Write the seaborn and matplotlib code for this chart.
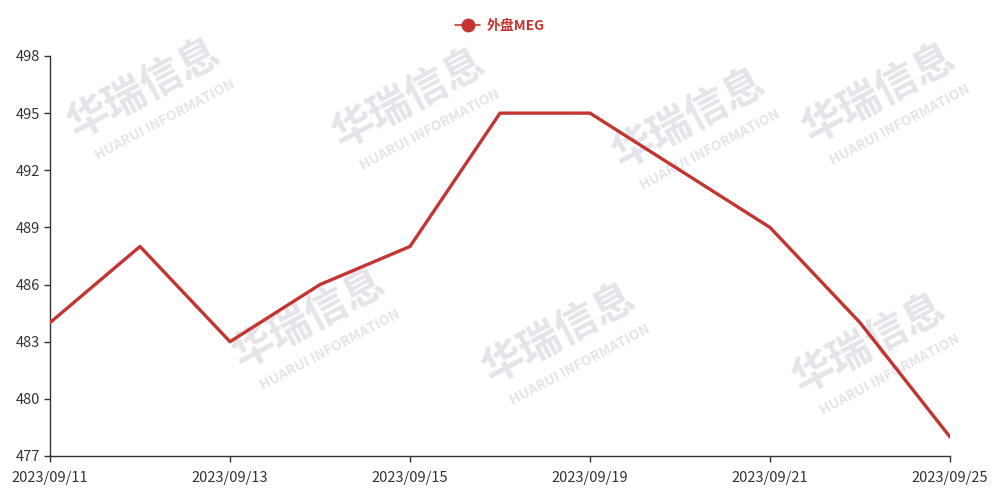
import matplotlib
matplotlib.use("Agg")
import matplotlib.pyplot as plt
import seaborn as sns
import pandas as pd

dates = ["2023/09/11", "2023/09/12", "2023/09/13", "2023/09/14", "2023/09/15",
         "2023/09/18", "2023/09/19", "2023/09/20", "2023/09/21", "2023/09/22", "2023/09/25"]
meg = [484, 488, 483, 486, 488, 495, 495, 492, 489, 484, 478]
series_name = "外盘MEG"
y_ticks = [477, 480, 483, 486, 489, 492, 495, 498]

sns.set_theme(style="white")
plt.rcParams['font.family'] = ['Noto Sans CJK SC', 'DejaVu Sans']

df = pd.DataFrame({"idx": range(len(dates)), "date": dates, "value": meg})

fig = plt.figure(figsize=(9.96, 4.94), dpi=100)
ax = fig.add_axes([50/996, 1 - 456/494, 900/996, 400/494])

# watermark (drawn behind the axes)
wm_color = "#e4e4ea"
wm = [(145, 90), (410, 100), (690, 120), (880, 95), (310, 320), (560, 335), (870, 345)]
for (px, py) in wm:
    fig.text(px/996, 1 - py/494, "华瑞信息", fontsize=30, fontweight="bold", color=wm_color,
             rotation=28, ha="center", va="center", zorder=-5)
    fig.text((px + 20)/996, 1 - (py + 30)/494, "HUARUI INFORMATION", fontsize=10, fontweight="bold",
             color=wm_color, rotation=28, ha="center", va="center", zorder=-5)

red = "#c23531"
sns.lineplot(data=df, x="idx", y="value", ax=ax, color=red, linewidth=2.4, sort=False,
             label=series_name, legend=False, zorder=3)

ax.set_xlim(0, len(dates) - 1)
ax.set_ylim(477, 498)
ax.set_yticks(y_ticks)
ax.set_yticklabels([str(v) for v in y_ticks], fontsize=10.5, color="#333333")
tick_idx = [0, 2, 4, 6, 8, 10]
ax.set_xticks(tick_idx)
ax.set_xticklabels([dates[i] for i in tick_idx], fontsize=10.5, color="#333333")
ax.set_xlabel("")
ax.set_ylabel("")
ax.patch.set_alpha(0)

for s in ["top", "right"]:
    ax.spines[s].set_visible(False)
for s in ["left", "bottom"]:
    ax.spines[s].set_color("#333333")
    ax.spines[s].set_linewidth(1.0)
ax.tick_params(axis="both", which="both", length=4, width=1, color="#333333",
               left=True, bottom=True, direction="out")
ax.tick_params(axis="x", pad=7)
ax.tick_params(axis="y", pad=3)

# legend
from matplotlib.lines import Line2D
h = Line2D([0], [0], color=red, linewidth=1.2, marker="o", markersize=9,
           markerfacecolor=red, markeredgecolor=red)
leg = fig.legend([h], [series_name], loc="center", bbox_to_anchor=(500/996, 1 - 26/494),
                 frameon=False, handlelength=1.8, handletextpad=0.5,
                 prop={"family": ["Noto Sans CJK SC", "DejaVu Sans"], "size": 10, "weight": "bold"})
for t in leg.get_texts():
    t.set_color(red)

fig.savefig("out.png", dpi=100)
